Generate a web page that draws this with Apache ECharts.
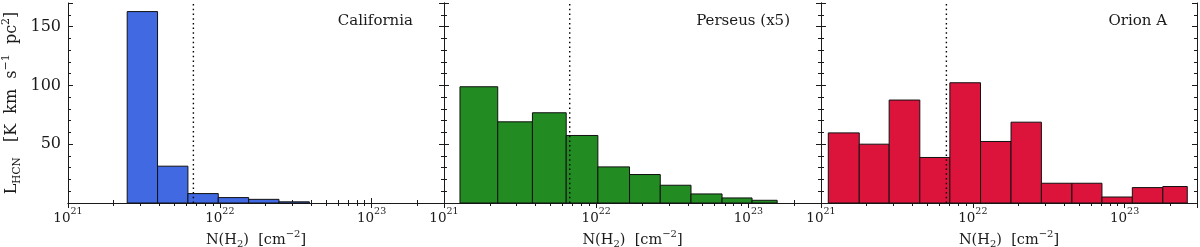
<!DOCTYPE html>
<html><head><meta charset="utf-8">
<script src="https://cdn.jsdelivr.net/npm/echarts@6/dist/echarts.min.js"></script>
<style>html,body{margin:0;padding:0;background:#fff}#c{width:1200px;height:247px}</style>
</head><body><div id="c"></div>
<script>
// ---- data ----
const panelNames = ['California', 'Perseus (x5)', 'Orion A'];
const panelColors = ['#4169E1', '#228B22', '#DC143C'];
// histogram bin edges as log10 N(H2) [cm^-2]
const californiaEdges = [21.39, 21.59, 21.79, 21.99, 22.19, 22.39, 22.59];
const californiaL = [162.7, 31.3, 8.0, 4.6, 3.1, 1.0];
const perseusEdges = [21.105, 21.353, 21.581, 21.803, 22.011, 22.219, 22.421, 22.623, 22.827, 23.024, 23.189];
const perseusL = [98.8, 69.0, 76.7, 57.4, 30.7, 24.2, 15.1, 7.7, 4.3, 2.3];
const orionEdges = [21.048, 21.252, 21.449, 21.651, 21.849, 22.051, 22.252, 22.452, 22.653, 22.851, 23.051, 23.252, 23.413];
const orionL = [59.6, 50.0, 87.5, 38.7, 102.2, 52.3, 68.7, 16.8, 16.8, 5.1, 13.1, 14.0];
const thresholdN = 6.7e21;
const xMin = 1e21, xMax = 3e23;
const yMin = 0, yMax = 170, yStep = 50;
const xMinorMultipliers = [2, 3, 4, 5, 6, 7, 8, 9];
const xDecades = [21, 22, 23];
const yMinorTicks = [10, 20, 30, 40, 60, 70, 80, 90, 110, 120, 130, 140, 160];

const panelEdges = [californiaEdges, perseusEdges, orionEdges];
const panelValues = [californiaL, perseusL, orionL];

// ---- build ----
const FONT = 'DejaVu Serif';
const INK = '#1a1a1a';
const xMinorTicks = [];
xDecades.forEach(d => xMinorMultipliers.forEach(m => {
  const v = m * Math.pow(10, d);
  if (v < xMax) xMinorTicks.push(v);
}));

const grids = [
  {left: 68, top: 3, width: 376, height: 200},
  {left: 444, top: 3, width: 377, height: 200},
  {left: 821, top: 3, width: 376, height: 200}
].map(g => Object.assign(g, {containLabel: false, outerBoundsMode: 'none'}));

const lineSt = {color: INK, width: 1};
const xRich = {
  b: {fontFamily: FONT, fontSize: 13.5, color: INK, lineHeight: 18, verticalAlign: 'bottom'},
  s: {fontFamily: FONT, fontSize: 9.5, color: INK, lineHeight: 10, verticalAlign: 'top'}
};
const nameRich = {
  t: {fontFamily: FONT, fontSize: 14.5, color: INK, lineHeight: 20},
  sub: {fontFamily: FONT, fontSize: 10, color: INK, lineHeight: 10, verticalAlign: 'bottom'},
  sup: {fontFamily: FONT, fontSize: 10, color: INK, lineHeight: 10, verticalAlign: 'top'}
};
const yNameRich = {
  t: {fontFamily: FONT, fontSize: 16, color: INK, lineHeight: 22},
  sub: {fontFamily: FONT, fontSize: 10.5, color: INK, lineHeight: 10, verticalAlign: 'bottom'},
  sup: {fontFamily: FONT, fontSize: 11, color: INK, lineHeight: 11, verticalAlign: 'top'}
};

const xAxes = [], yAxes = [], series = [];
panelNames.forEach((name, i) => {
  const xb = xAxes.length, yb = yAxes.length;
  const xc = {type: 'log', logBase: 10, gridIndex: i, min: xMin, max: xMax, splitLine: {show: false}, silent: true};
  xAxes.push(Object.assign({}, xc, {
    position: 'bottom',
    axisLine: {show: true, lineStyle: lineSt},
    axisTick: {show: true, inside: true, length: 5, lineStyle: lineSt},
    axisLabel: {show: true, margin: 4, showMaxLabel: false,
      formatter: v => '{b|10}{s|' + Math.round(Math.log10(v)) + '}', rich: xRich},
    name: '{t|N(H}{sub|2}{t|)  [cm}{sup|\u22122}{t|]}',
    nameLocation: 'middle', nameGap: 26,
    nameTextStyle: {rich: nameRich}
  }));
  xAxes.push(Object.assign({}, xc, {
    position: 'bottom', axisLine: {show: false},
    axisTick: {show: true, inside: true, length: 3, lineStyle: lineSt, customValues: xMinorTicks},
    axisLabel: {show: false}
  }));
  xAxes.push(Object.assign({}, xc, {
    position: 'top', axisLine: {show: true, lineStyle: lineSt},
    axisTick: {show: true, inside: true, length: 5, lineStyle: lineSt},
    axisLabel: {show: false}
  }));
  xAxes.push(Object.assign({}, xc, {
    position: 'top', axisLine: {show: false},
    axisTick: {show: true, inside: true, length: 3, lineStyle: lineSt, customValues: xMinorTicks},
    axisLabel: {show: false}
  }));

  const yc = {type: 'value', gridIndex: i, min: yMin, max: yMax, interval: yStep, splitLine: {show: false}, silent: true};
  yAxes.push(Object.assign({}, yc, {
    position: 'left',
    axisLine: {show: true, lineStyle: lineSt},
    axisTick: {show: true, inside: true, length: 5, lineStyle: lineSt},
    axisLabel: {show: i === 0, margin: 7, fontFamily: FONT, fontSize: 16, color: INK,
      formatter: v => (v === 0 || v > 160) ? '' : String(v)},
    name: i === 0 ? '{t|L}{sub|HCN}{t|   [K  km  s}{sup|\u22121}{t|  pc}{sup|2}{t|]}' : '',
    nameLocation: 'middle', nameGap: 45, nameRotate: 90,
    nameTextStyle: {rich: yNameRich}
  }));
  yAxes.push(Object.assign({}, yc, {
    position: 'left', axisLine: {show: false},
    axisTick: {show: true, inside: true, length: 3, lineStyle: lineSt, customValues: yMinorTicks},
    axisLabel: {show: false}
  }));
  yAxes.push(Object.assign({}, yc, {
    position: 'right', axisLine: {show: true, lineStyle: lineSt},
    axisTick: {show: true, inside: true, length: 5, lineStyle: lineSt},
    axisLabel: {show: false}
  }));
  yAxes.push(Object.assign({}, yc, {
    position: 'right', axisLine: {show: false},
    axisTick: {show: true, inside: true, length: 3, lineStyle: lineSt, customValues: yMinorTicks},
    axisLabel: {show: false}
  }));

  const edges = panelEdges[i], vals = panelValues[i];
  const data = vals.map((h, k) => [Math.pow(10, edges[k]), Math.pow(10, edges[k + 1]), h]);
  const color = panelColors[i];
  series.push({
    type: 'custom', name: name, xAxisIndex: xb, yAxisIndex: yb, z: 2,
    encode: {x: [0, 1], y: 2},
    data: data,
    renderItem: (params, api) => {
      const p0 = api.coord([api.value(0), api.value(2)]);
      const p1 = api.coord([api.value(1), 0]);
      return {type: 'rect',
        shape: {x: p0[0], y: p0[1], width: p1[0] - p0[0], height: p1[1] - p0[1]},
        style: {fill: color, stroke: '#111', lineWidth: 1}};
    }
  });
  series.push({
    type: 'line', xAxisIndex: xb, yAxisIndex: yb, z: 5, symbol: 'none', silent: true,
    data: [[thresholdN, yMin], [thresholdN, yMax]],
    lineStyle: {color: '#000', width: 1.4, type: [1.5, 3.2]}
  });
});

const titles = [
  {text: panelNames[0], right: 787},
  {text: panelNames[1], right: 410},
  {text: panelNames[2], right: 33}
].map(t => Object.assign(t, {top: 14, padding: 0,
  textStyle: {fontFamily: FONT, fontSize: 15, fontWeight: 'normal', color: INK}}));

const chart = echarts.init(document.getElementById('c'), null, {renderer: 'canvas'});
chart.setOption({
  animation: false,
  backgroundColor: '#fff',
  title: titles,
  grid: grids,
  xAxis: xAxes,
  yAxis: yAxes,
  series: series
});
</script></body></html>
